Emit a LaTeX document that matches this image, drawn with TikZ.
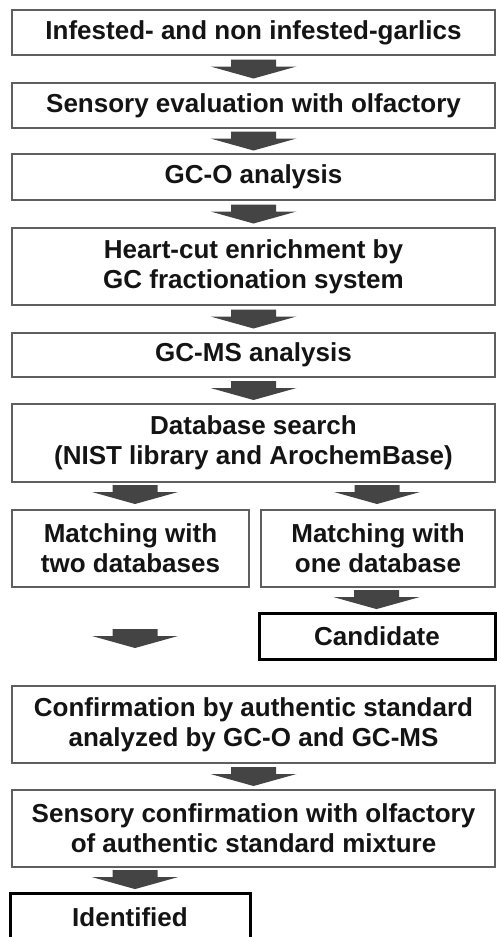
\documentclass[tikz,border=0pt]{standalone}
\usepackage{fontspec}
\setmainfont{Liberation Sans}
\usetikzlibrary{calc}
\definecolor{boxgray}{RGB}{95,95,95}
\definecolor{arrowgray}{RGB}{68,68,68}
\definecolor{inkblack}{RGB}{20,20,20}
\newcommand{\flowfont}{\fontsize{26}{30}\selectfont\bfseries}
\tikzset{
  x=1pt, y=1pt,
  stepbox/.style={draw=boxgray, line width=1.3pt, fill=white, inner sep=0pt,
    align=center, font=\flowfont, text=inkblack},
  widebox/.style={stepbox, minimum width=483pt},
  resultbox/.style={stepbox, draw=black, line width=3pt},
  pics/blockarrow/.style={code={
    \fill[arrowgray] (-22.5,9.5) -- (22.5,9.5) -- (22.5,2.5) -- (43,2.5)
      -- (0,-9.5) -- (-43,2.5) -- (-22.5,2.5) -- cycle;}}
}
\begin{document}
\begin{tikzpicture}
\useasboundingbox (0,0) rectangle (496,-937);
\fill[white] (0,0) rectangle (496,-937);

% main column of steps
\node[widebox, minimum height=45pt] (b1) at (253.5,-32.5) {Infested- and non infested-garlics};
\node[widebox, minimum height=45pt] (b2) at (253.5,-105.5) {Sensory evaluation with olfactory};
\node[widebox, minimum height=46pt] (b3) at (253.5,-177) {GC-O analysis};
\node[widebox, minimum height=77pt] (b4) at (253.5,-266.5) {Heart-cut enrichment by\\GC fractionation system};
\node[widebox, minimum height=44pt] (b5) at (253.5,-355) {GC-MS analysis};
\node[widebox, minimum height=78pt] (b6) at (253.5,-443) {Database search\\(NIST library and ArochemBase)};

% two branches of the search result
\node[stepbox, minimum width=237pt, minimum height=77pt] (b7) at (130.5,-548.5) {Matching with\\two databases};
\node[stepbox, minimum width=234pt, minimum height=77pt] (b8) at (378,-548.5) {Matching with\\one database};
\node[resultbox, minimum width=236pt, minimum height=46pt] (cand) at (377,-636) {Candidate};

% confirmation steps
\node[widebox, minimum height=77pt] (b9) at (253.5,-724.5) {Confirmation by authentic standard\\analyzed by GC-O and GC-MS};
\node[widebox, minimum height=77pt] (b10) at (253.5,-828.5) {Sensory confirmation with olfactory\\of authentic standard mixture};
% the last box runs on past the lower edge of the page
\node[resultbox, minimum width=240pt, minimum height=60pt, text depth=12pt] (ident) at (130,-923) {Identified};

% block arrows between the steps
\pic at ($(b1.south)!0.5!(b2.north)$) {blockarrow};
\pic at ($(b2.south)!0.5!(b3.north)$) {blockarrow};
\pic at ($(b3.south)!0.5!(b4.north)$) {blockarrow};
\pic at ($(b4.south)!0.5!(b5.north)$) {blockarrow};
\pic at ($(b5.south)!0.5!(b6.north)$) {blockarrow};
\pic at ($(b6.south -| b7.north)!0.5!(b7.north)+(4.5,1.5)$) {blockarrow};
\pic at ($(b6.south -| b8.north)!0.5!(b8.north)+(-1,1.5)$) {blockarrow};
\pic at ($(b8.south)!0.5!(cand.north)+(-1,0)$) {blockarrow};
\pic at ($(b7.south)!0.5!(b9.north -| b7.south)+(4.5,-2)$) {blockarrow};
\pic at ($(b9.south)!0.5!(b10.north)$) {blockarrow};
\pic at ($(b10.south -| ident.north)!0.5!(ident.north)+(5,0)$) {blockarrow};
\end{tikzpicture}
\end{document}
